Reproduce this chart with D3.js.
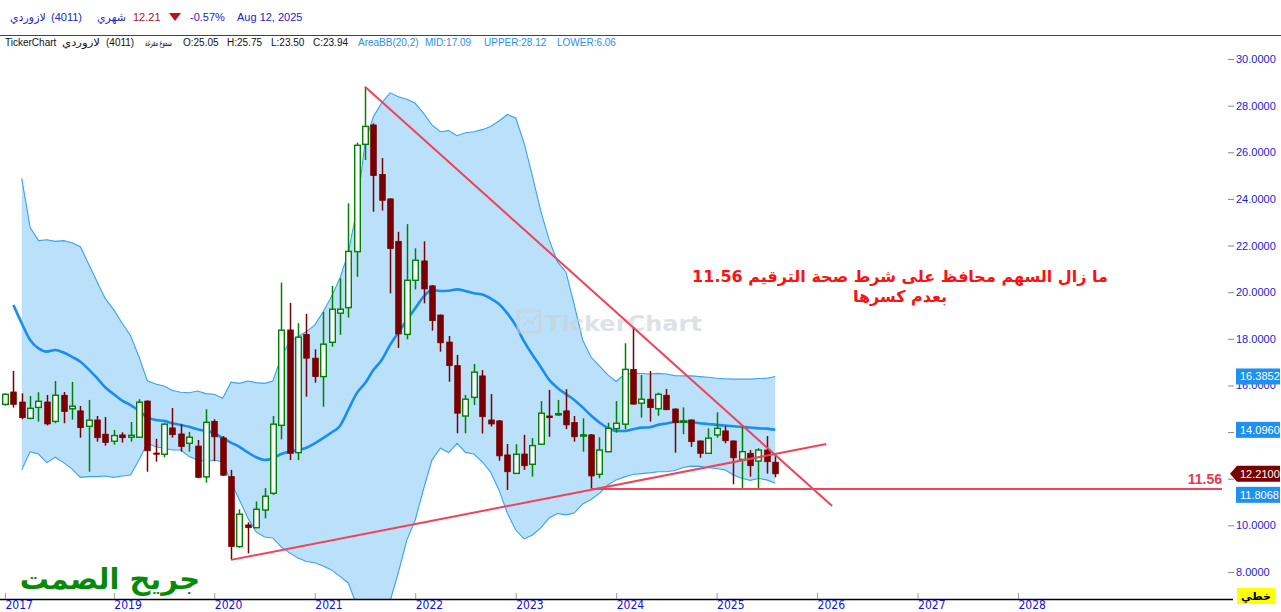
<!DOCTYPE html>
<html><head><meta charset="utf-8">
<script src="https://cdn.jsdelivr.net/npm/d3@7"></script>
<style>
body{margin:0;background:#fff;}
svg{display:block;font-family:"Liberation Sans","DejaVu Sans",sans-serif;}
</style></head><body>
<svg id="c" width="1281" height="612"></svg>
<script>
const months=["2017-12",
"2018-01","2018-02","2018-03","2018-04","2018-05","2018-06","2018-07","2018-08","2018-09","2018-10","2018-11","2018-12",
"2019-01","2019-02","2019-03","2019-04","2019-05","2019-06","2019-07","2019-08","2019-09","2019-10","2019-11","2019-12",
"2020-01","2020-02","2020-03","2020-04","2020-05","2020-06","2020-07","2020-08","2020-09","2020-10","2020-11","2020-12",
"2021-01","2021-02","2021-03","2021-04","2021-05","2021-06","2021-07","2021-08","2021-09","2021-10","2021-11","2021-12",
"2022-01","2022-02","2022-03","2022-04","2022-05","2022-06","2022-07","2022-08","2022-09","2022-10","2022-11","2022-12",
"2023-01","2023-02","2023-03","2023-04","2023-05","2023-06","2023-07","2023-08","2023-09","2023-10","2023-11","2023-12",
"2024-01","2024-02","2024-03","2024-04","2024-05","2024-06","2024-07","2024-08","2024-09","2024-10","2024-11","2024-12",
"2025-01","2025-02","2025-03","2025-04","2025-05","2025-06","2025-07","2025-08"];

const open=[15.19,15.72,15.29,14.59,15.06,15.29,14.46,15.58,15.00,14.91,14.25,14.52,13.91,13.61,13.88,13.78,13.78,15.33,13.10,13.05,14.18,13.92,13.52,13.40,12.08,14.46,13.75,12.09,9.09,10.02,9.90,10.66,11.38,14.29,18.38,13.12,18.19,17.17,16.38,17.85,19.10,19.34,21.74,26.34,27.17,25.05,24.00,22.18,18.19,20.51,21.34,20.27,19.02,17.86,16.85,14.69,15.49,16.41,14.52,14.48,13.02,12.23,13.06,12.62,13.48,14.69,14.75,14.91,14.41,13.83,13.88,12.19,13.16,14.15,14.34,16.69,15.24,15.41,15.00,15.58,14.99,14.42,14.52,13.62,13.09,13.88,14.05,13.62,12.83,13.09,12.76,13.23,12.71];
const high=[15.66,16.62,15.66,15.55,15.71,15.59,16.19,15.72,16.15,15.12,15.38,14.69,14.65,14.09,13.99,14.43,15.41,15.36,13.71,14.38,15.03,14.34,14.01,13.66,14.98,14.55,13.83,12.38,10.69,10.13,11.02,11.60,14.69,20.41,19.54,18.67,19.07,17.55,19.16,20.27,20.60,23.81,26.41,28.81,27.24,25.75,24.02,22.59,22.92,21.88,22.18,20.31,19.04,18.12,17.31,15.59,16.92,16.66,15.63,14.52,13.49,13.48,13.88,13.74,15.33,15.81,15.38,15.84,14.69,14.59,13.92,13.78,14.40,15.33,17.81,18.49,16.45,16.62,15.69,15.85,15.02,15.06,14.54,13.64,14.16,14.85,14.26,13.64,14.26,13.23,13.31,13.83,13.02];
const low=[15.13,15.05,14.55,14.55,14.45,14.29,14.38,14.38,14.53,13.76,12.30,13.59,13.42,13.46,13.55,13.59,13.76,12.30,12.73,12.92,13.76,13.16,13.16,12.02,11.83,12.75,12.12,8.52,9.04,8.80,9.88,10.30,11.30,13.69,12.80,12.80,15.52,16.12,15.09,17.66,18.17,18.91,20.66,25.67,23.45,23.50,19.95,17.61,17.98,20.12,19.52,18.35,17.45,16.16,13.95,13.95,15.16,13.94,14.24,12.77,11.52,12.21,12.38,12.09,13.46,13.80,14.69,14.13,13.59,13.16,11.55,12.02,13.14,13.98,14.12,15.18,14.62,14.45,14.70,14.94,13.12,13.91,13.37,12.90,13.07,13.76,13.52,11.76,11.55,12.09,11.55,12.22,12.06];
const close=[15.62,15.19,14.62,15.02,15.32,14.35,15.58,14.88,15.11,14.19,14.51,13.76,13.56,13.85,13.76,13.86,15.28,13.20,13.07,14.34,13.89,13.38,13.78,12.06,14.42,13.80,12.15,9.09,10.48,9.90,10.69,11.25,14.34,18.37,13.09,18.07,17.17,16.38,17.77,19.27,19.27,21.75,26.30,27.11,25.00,23.94,21.87,18.21,20.51,21.37,20.14,18.78,17.83,16.85,14.81,15.41,16.57,14.66,14.35,12.98,12.30,13.05,12.56,13.42,14.81,14.62,14.79,14.31,13.80,13.88,12.12,13.23,14.16,14.38,16.69,15.20,15.41,15.05,15.62,14.96,14.41,14.48,13.59,13.09,13.74,14.16,13.63,12.90,13.16,12.56,13.23,12.73,12.21];

const bbUpper=[null,null,24.88,22.78,22.21,22.25,22.18,22.21,22.12,21.95,21.20,20.45,19.71,19.24,18.67,18.13,17.23,16.20,16.06,15.98,15.78,15.71,15.69,15.76,15.65,15.62,15.45,16.14,16.09,16.19,16.12,16.09,16.19,17.23,17.88,18.09,18.31,18.59,19.16,19.81,20.60,21.67,23.52,26.39,27.53,28.12,28.55,28.38,28.27,28.10,27.67,27.17,26.88,26.93,26.71,26.84,26.88,26.97,27.11,27.34,27.62,27.47,26.40,24.98,23.48,22.24,21.30,20.87,19.45,17.95,17.22,16.84,16.45,16.17,16.49,16.51,16.51,16.49,16.52,16.49,16.42,16.41,16.41,16.38,16.35,16.31,16.29,16.27,16.27,16.27,16.30,16.31,16.3852];
const bbMid=[null,19.45,18.67,17.95,17.59,17.45,17.52,17.41,17.23,17.02,16.69,16.31,15.91,15.62,15.35,15.16,14.92,14.63,14.52,14.48,14.38,14.31,14.23,14.12,14.05,13.95,13.74,13.55,13.37,13.13,12.92,12.80,12.88,13.06,13.16,13.23,13.33,13.52,13.74,13.98,14.26,14.95,15.66,16.09,16.66,17.09,17.74,18.28,18.81,19.31,19.81,20.09,20.05,20.06,20.12,20.05,19.95,19.90,19.73,19.49,19.09,18.58,17.89,17.32,16.79,16.24,15.89,15.63,15.38,15.06,14.71,14.41,14.18,14.05,14.05,14.12,14.19,14.21,14.31,14.37,14.43,14.45,14.43,14.38,14.35,14.31,14.28,14.25,14.22,14.20,14.16,14.15,14.096];
const bbLower=[null,null,12.38,13.16,13.06,12.69,12.92,12.69,12.42,12.06,12.09,12.09,12.12,12.06,12.12,12.16,12.80,13.52,13.37,13.31,13.23,13.23,12.95,12.80,12.73,12.80,12.72,11.86,11.09,10.32,9.72,9.50,9.46,9.07,8.82,8.60,8.45,8.40,8.26,8.09,7.81,7.53,6.59,5.95,5.73,6.06,6.75,8.00,9.37,10.23,11.56,12.80,13.31,13.12,13.52,13.13,13.06,12.72,12.29,11.52,10.53,9.80,9.42,9.59,9.89,10.32,10.51,10.45,10.53,10.92,11.11,11.37,11.73,11.95,12.08,12.18,12.22,12.25,12.30,12.30,12.35,12.48,12.54,12.53,12.47,12.44,12.38,12.16,12.02,11.93,12.01,11.95,11.8068];

const yTicks=[8,10,12,14,16,18,20,22,24,26,28,30];
const yHiddenLabels=[12,14]; // covered by the price tags in the reference
const yearTickIdx=[0,13,25,37,49,61,73,85,97,109,121];
const yearLabels=["2017","2019","2020","2021","2022","2023","2024","2025","2026","2027","2028"];
const trendDown=[{i:43,v:28.81},{i:98.8,v:10.83}];
const trendUp=[{i:27,v:8.52},{i:98.1,v:13.49}];
const supportLevel=11.56, supportStartIdx=70;

const svg=d3.select("#c");
const x=d3.scaleLinear().domain([0,121]).range([5,1018]);
const y=d3.scaleLinear().domain([8,30]).range([572,59]);
const plotRight=1222, plotTop=36, plotBottom=599;
const xEnd=x.invert(plotRight);
const N=months.length;
const idx=d3.range(N);

svg.append("defs").append("clipPath").attr("id","plot").append("rect")
  .attr("x",0).attr("y",plotTop).attr("width",plotRight).attr("height",plotBottom-plotTop);

// header
const blue="#2424c8";
const h=svg.append("g").attr("font-size",11);
h.append("text").attr("x",10).attr("y",21).attr("fill",blue).text("لازوردي");
h.append("text").attr("x",51).attr("y",21).attr("fill",blue).text("(4011)");
h.append("text").attr("x",97).attr("y",21).attr("fill",blue).text("شهري");
h.append("text").attr("x",133).attr("y",21).attr("fill","#b0102a").text("12.21");
h.append("path").attr("d","M169,13 L181,13 L175,21 Z").attr("fill","#c0101e");
h.append("text").attr("x",190).attr("y",21).attr("fill",blue).text("-0.57%");
h.append("text").attr("x",237).attr("y",21).attr("fill",blue).text("Aug 12, 2025");
svg.append("line").attr("x1",0).attr("x2",1281).attr("y1",35.5).attr("y2",35.5).attr("stroke","#444").attr("stroke-width",1);
const h2=svg.append("g").attr("font-size",10).attr("fill","#111");
h2.append("text").attr("x",5).attr("y",46).text("TickerChart");
h2.append("text").attr("x",62).attr("y",46).attr("textLength",38).attr("lengthAdjust","spacingAndGlyphs").text("لازوردي");
h2.append("text").attr("x",106).attr("y",46).text("(4011)");
h2.append("text").attr("x",145).attr("y",46).attr("textLength",27).attr("lengthAdjust","spacingAndGlyphs").attr("font-size",9).text("شموع مفرغة");
[["O:25.05",183],["H:25.75",227],["L:23.50",271],["C:23.94",313]]
 .forEach(d=>h2.append("text").attr("x",d[1]).attr("y",46).text(d[0]));
[["AreaBB(20,2)",358],["MID:17.09",425],["UPPER:28.12",484],["LOWER:6.06",557]]
 .forEach(d=>h2.append("text").attr("x",d[1]).attr("y",46).attr("fill","#2a8ff0").text(d[0]));

const plot=svg.append("g").attr("clip-path","url(#plot)");

// bands
const bandIdx=idx.filter(i=>bbUpper[i]!=null);
plot.append("path").datum(bandIdx)
  .attr("d",d3.area().x(i=>x(i)).y0(i=>y(bbLower[i])).y1(i=>y(bbUpper[i])))
  .attr("fill","#bae0fa");
[bbUpper,bbLower].forEach(arr=>{
  plot.append("path").datum(bandIdx).attr("d",d3.line().x(i=>x(i)).y(i=>y(arr[i])))
   .attr("fill","none").attr("stroke","#3aa2f2").attr("stroke-width",1.1);
});
plot.append("path").datum(idx.filter(i=>bbMid[i]!=null))
  .attr("d",d3.line().curve(d3.curveMonotoneX).x(i=>x(i)).y(i=>y(bbMid[i])))
  .attr("fill","none").attr("stroke","#1a8ef0").attr("stroke-width",2.6);

// watermark
const wm=plot.append("g").attr("opacity",0.6);
wm.append("rect").attr("x",518).attr("y",311).attr("width",22).attr("height",21).attr("fill","none").attr("stroke","#c9d0d6").attr("stroke-width",3);
wm.append("path").attr("d","M522,328 L528,320 L532,323 L537,315").attr("fill","none").attr("stroke","#c9d0d6").attr("stroke-width",2);
wm.append("text").attr("x",545).attr("y",331).attr("font-family","'DejaVu Sans',sans-serif").attr("font-size",22).attr("font-weight","bold")
  .attr("textLength",157).attr("lengthAdjust","spacingAndGlyphs").attr("fill","#c9d0d6").text("TickerChart");

// candles
const up="#008000", dn="#7b0000";
const cg=plot.append("g");
idx.forEach(i=>{
  const isUp=close[i]>=open[i];
  const col=isUp?up:dn;
  const cx=Math.round(x(i))+0.5;
  cg.append("line").attr("x1",cx).attr("x2",cx).attr("y1",y(high[i])).attr("y2",y(low[i]))
    .attr("stroke",col).attr("stroke-width",1.5);
  const top=y(Math.max(open[i],close[i])), bot=y(Math.min(open[i],close[i]));
  cg.append("rect").attr("x",cx-2.8).attr("width",5.6).attr("y",top).attr("height",Math.max(1.2,bot-top))
    .attr("fill",isUp?"#fff":dn).attr("stroke",col).attr("stroke-width",isUp?1.4:0.8);
});

// trend lines
const lc="#f0435a";
[trendDown,trendUp].forEach(t=>{
  plot.append("line").attr("x1",x(t[0].i)).attr("y1",y(t[0].v)).attr("x2",x(t[1].i)).attr("y2",y(t[1].v))
   .attr("stroke",lc).attr("stroke-width",2);
});
plot.append("line").attr("x1",x(supportStartIdx)).attr("x2",x(xEnd)).attr("y1",y(supportLevel)).attr("y2",y(supportLevel))
  .attr("stroke",lc).attr("stroke-width",2);
svg.append("text").attr("x",1222).attr("y",y(supportLevel)-5).attr("text-anchor","end")
  .attr("font-size",14).attr("font-weight","bold").attr("fill","#e8384f").text(supportLevel.toFixed(2));

// annotation
const ann=svg.append("g").attr("font-family","'DejaVu Sans',sans-serif").attr("font-weight","bold").attr("fill","#ff1010").attr("font-size",16).attr("text-anchor","middle").attr("direction","rtl");
ann.append("text").attr("x",900).attr("y",282).text("ما زال السهم محافظ على شرط صحة الترقيم 11.56");
ann.append("text").attr("x",900).attr("y",302).text("بعدم كسرها");

svg.append("text").attr("x",110).attr("y",589).attr("text-anchor","middle").attr("direction","rtl")
  .attr("font-family","'DejaVu Sans',sans-serif").attr("font-weight","bold").attr("font-size",29).attr("fill","#078a07").text("جريح الصمت");

// y axis
const ya=svg.append("g").attr("transform","translate(1228,0)")
  .call(d3.axisRight(y).tickValues(yTicks).tickSize(6).tickPadding(2)
    .tickFormat(d=>yHiddenLabels.includes(d)?"":d3.format(".4f")(d)));
ya.select(".domain").remove();
ya.selectAll("line").attr("stroke","#888");
ya.selectAll("text").attr("fill","#2020e0").attr("font-size",11).attr("font-family","'Liberation Sans',sans-serif");

// x axis
svg.append("line").attr("x1",0).attr("x2",1233).attr("y1",plotBottom+0.5).attr("y2",plotBottom+0.5).attr("stroke","#000").attr("stroke-width",1.5);
const xa=svg.append("g").attr("transform",`translate(0,${plotBottom})`)
  .call(d3.axisBottom(x).tickValues(yearTickIdx).tickSize(-6).tickPadding(2).tickFormat((d,k)=>yearLabels[k]));
xa.select(".domain").remove();
xa.selectAll("line").attr("stroke","#999");
xa.selectAll("text").attr("text-anchor","start").attr("fill","#1010e8").attr("font-size",12)
  .attr("font-family","'Liberation Sans Narrow','DejaVu Sans Condensed',sans-serif").attr("dy","0.7em");

// price tags
function tag(val,yc,color,arrow){
  const g=svg.append("g");
  if(arrow){
    g.append("path").attr("d",`M1230,${yc} L1237,${yc-8} L1280,${yc-8} L1280,${yc+8} L1237,${yc+8} Z`).attr("fill",color);
  } else {
    g.append("rect").attr("x",1236).attr("y",yc-8).attr("width",44).attr("height",16).attr("fill",color);
  }
  g.append("text").attr("x",1240).attr("y",yc+4).attr("fill","#fff").attr("font-size",11).text(d3.format(".4f")(val));
}
const L=N-1;
tag(bbUpper[L],y(bbUpper[L]),"#1e90f0",false);
tag(bbMid[L],y(bbMid[L]),"#1e90f0",false);
tag(close[L],y(close[L]),"#7a0000",true);
tag(bbLower[L],y(close[L])+21,"#1e90f0",false);

svg.append("rect").attr("x",1237).attr("y",588).attr("width",38).attr("height",16).attr("fill","#ffff00");
svg.append("text").attr("x",1256).attr("y",600).attr("text-anchor","middle").attr("font-size",11).attr("font-weight","bold").attr("fill","#000").text("خطي");
</script></body></html>
